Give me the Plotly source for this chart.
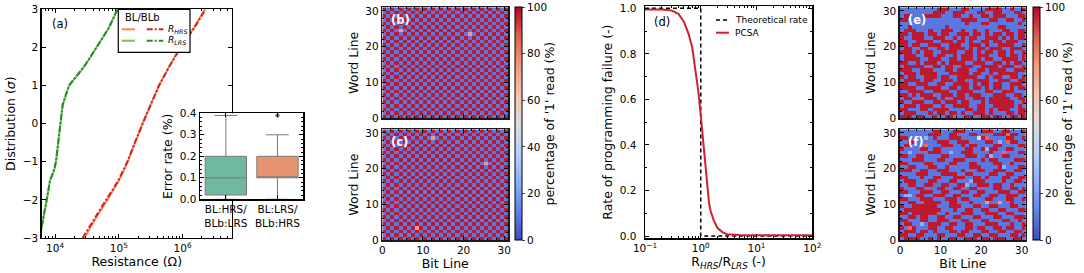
import plotly.graph_objects as go

W, H = 1084, 273
FONT = "DejaVu Sans"


def px(x):
    return x / W


def py(y):
    return 1 - y / H


# ---------------- Panel (a): cumulative distributions ----------------
sigma_hrs = [-3.0, -2.5, -2.0, -1.5, -1.0, -0.5, 0.0, 0.5, 1.0, 1.5, 2.0, 2.5, 3.0]
r_bl_hrs = [28800, 42700, 66100, 100000, 138000, 178000, 234000, 316000, 427000, 617000, 912000, 1480000, 2240000]
r_blb_hrs = [27000, 40700, 63100, 97700, 136000, 178000, 234000, 316000, 427000, 617000, 933000, 1510000, 2290000]

sigma_lrs = [-3.0, -2.5, -2.0, -1.5, -1.2, -1.0, -0.5, 0.0, 0.5, 1.0, 1.5, 2.0, 2.5, 3.0]
r_bl_lrs = [5750, 6610, 7410, 8320, 9770, 10350, 11220, 12020, 13180, 16600, 28800, 44700, 69200, 95500]
r_blb_lrs = [5700, 6560, 7380, 8300, 9700, 10300, 11200, 12000, 13150, 16500, 28600, 44500, 69000, 95000]

# inset box statistics (error rate %)
box_labels = ["BL:HRS/<br>BLb:LRS", "BL:LRS/<br>BLb:HRS"]
box_q1 = [0.02, 0.10]
box_median = [0.10, 0.10]
box_q3 = [0.20, 0.20]
box_low = [0.0, 0.0]
box_high = [0.39, 0.30]
outlier_val = [0.39]

# ---------------- Panel (d): programming failure ----------------
ratio_theory = [0.1, 1.0, 1.0, 100.0]
rate_theory = [1.0, 1.0, 0.0, 0.0]
ratio_pcsa = [0.1, 0.2, 0.3, 0.4, 0.5, 0.6, 0.7, 0.8, 0.9, 1.0, 1.1, 1.2, 1.3, 1.4, 1.5,
              1.7, 2.0, 2.5, 3.0, 4.0, 5.0, 10.0, 20.0, 50.0, 100.0]
rate_pcsa = [0.995, 0.995, 0.99, 0.975, 0.94, 0.89, 0.83, 0.74, 0.64, 0.53, 0.42, 0.31, 0.22,
             0.15, 0.11, 0.07, 0.035, 0.015, 0.008, 0.005, 0.004, 0.003, 0.003, 0.003, 0.003]

# ---------------- Heatmaps: rows listed from word line 30 (top) to 0 ----------------
level = {"B": 10, "b": 25, "w": 50, "o": 75, "r": 85, "R": 97}

map_b = [
    "RBRBRBRBRBRBRBRBRBRBRBRBRBRBRBR",
    "BRBRBRBRBRBRBRBRBRBRBRBRBRBRBRB",
    "RBRBRBRBRBRBRBRBRBRBRBRBRBRBRBR",
    "BRBRBRBRBRBRBRBRBRBRBRBRBRBRBRB",
    "RBRBRBRBRBRBRBRBRBRBRBRBRBRBRBR",
    "BRBRBRBRBRBRBRBRBRBRBRBRBRBRBRB",
    "RBRBoBRBRBRBRBRBRBRBRBRBRBRBRBR",
    "BRBRBRBRBRBRBRBRBRBRBoBRBRBRBRB",
    "RBRBRBRBRBRBRBRBRBRBRBRBRBRBRBR",
    "BRBRBRBRBRBRBRBRBRBRBRBRBRBRBRB",
    "RBRBRBRBRBRBRBRBRBRBRBRBRBRBRBR",
    "BRBRBRBRBRBRBRBRBRBRBRBRBRBRBRB",
    "RBRBRBRBRBRBRBRBRBRBRBRBRBRBRBR",
    "BRBRBRBRBRBRBRBRBRBRBRBRBRBRBRB",
    "RBRBRBRBRBRBRBRBRBRBRBRBRBRBRBR",
    "BRBRBRBRBRBRBRBRBRBRBRBRBRBRBRB",
    "RBRBRBRBRBRBRBRBRBRBRBRBRBRBRBR",
    "BRBRBRBRBRBRBRBRBRBRBRBRBRBRBRB",
    "RBRBRBRBRBRBRBRBRBRBRBRBRBRBRBR",
    "BRBRBRBRBRBRBRBRBRBRBRBRBRBRBRB",
    "RBRBRBRBRBRBRBRBRBRBRBRBRBRBRBR",
    "BRBRBRBRBRBRBRBRBRBRBRBRBRBRBRB",
    "RBRBRBRBRBRBRBRBRBRBRBRBRBRBRBR",
    "BRBRBRBRBRBRBRBRBRBRBRBRBRBRBRB",
    "RBRBRBRBRBRBRBRBRBRBRBRBRBRBRBR",
    "BRBRBRBRBRBRBRBRBRBRBRBRBRBRBRB",
    "RBRBRBRBRBRBRBRBRBRBRBRBRBRBRBR",
    "BRBRBRBRBRBRBRBRBRBRBRBRBRBRBRB",
    "RBRBRBRBRBRBRBRBRBRBRBRBRBRBRBR",
    "BRBRBRBRBRBRBRBRBRBRBRBRBRBRBRB",
    "RBRBRBRBRBRBRBRBRBRBRBRBRBRBRBR",
]

map_c = [
    "RBRBRBRBRBRBRBRBRBRBRBRBRBRBRBR",
    "BRBRBRBRBRBRBRBRBRBRBRBRBRBRBRB",
    "RBRBRBRBRBRBoBRBRBRBRBRBRBRBRBR",
    "BRBRBRBRBRBRBRBRBRBRBRBRBRBRBRB",
    "RBRBRBRBRBRBRBRBRBRBRBRBRBRBRBR",
    "BRBRBRBRBRBRBRBRBRBRBRBRBRBRBRB",
    "RBRBRBRBRBRBRBRBRBRBRBRBRBRBRBR",
    "BRBRBRBRBRBRBRBRBRBRBRBRBRBRBRB",
    "RBRBRBRBRBRBRBRBRBRBRBRBRBRBRBR",
    "BRBRBRBRBRBRBRBRBRBRBRBRBoBRBRB",
    "RBRBRBRBRBRBRBRBRBRBRBRBRBRBRBR",
    "BRBRBRBRBRBRBRBRBRBRBRBRBRBRBRB",
    "RBRBRBRBRBRBRBRBRBRBRBRBRBRBRBR",
    "BRBRBRBRBRBRBRBRBRBRBRBRBRBRBRB",
    "RBRBRBRBRBRBRBRBRBRBRBRBRBRBRBR",
    "BRBRBRBRBRBRBRBRBRBRBRBRBRBRBRB",
    "RBRBRBRBRBRBRBRBRBRBRBRBRBRBRBR",
    "BRBRBRBRBRBRBRBRBRBRBRBRBRBRBRB",
    "RBRBRBRBRBRBRBRBRBRBRBRBRBRBRBR",
    "BRBRBRBRBRBRBRBRBRBRBRBRBRBRBRB",
    "RBRBRBRBRBRBRBRBRBRBRBRBRBRBRBR",
    "BRBRBRBRBRBRBRBRBRBRBRBRBRBRBRB",
    "RBRBRBRBRBRBRBRBRBRBRBRBRBRBRBR",
    "BRBRBRBRBRBRBRBRBRBRBRBRBRBRBRB",
    "RBRBRBRBRBRBRBRBRBRBRBRBRBRBRBR",
    "BRBRBRBRBRBRBRBRBRBRBRBRBRBRBRB",
    "RBRBRBRBRBRBRBRBRBRBRBRBRBRBRBR",
    "BRBRBRBRoRBRBRBRBRBRBRBRBRBRBRB",
    "RBRBRBRBRBRBRBRBRBRBRBRBRBRBRBR",
    "BRBRBRBRBRBRBRBRBRBRBRBRBRBRBRB",
    "RBRBRBRBRBRBRBRBRBRBRBRBRBRBRBR",
]

map_e = [
    "BBBBBBBBBRRRBBBRRBBBBRRRRBBRBBR",
    "BBBBBBBBRRRBBRRRBBBRRBBRRBBBRRB",
    "BRRBBBRRRRBBBRRBBRBBRRBRRRBBBRR",
    "RRBBBBBBBBBBBBBRRRRBBBRRBBRRBBR",
    "BBBBBBBBBBBBBBBBRBBBRRBBBBBBBRB",
    "BBRBBBBBBBBRBBBBBBBBBBBBRRBBBBB",
    "BRRRBBBRBBRRRBBRBBRBBRBBBRRBBRR",
    "RRBRRRBRRBRRBBRRRBRRBRBRRBRRBRR",
    "RBBRRRBBRRRBBRBRBRRBBRRRBRBRBRR",
    "RRBBRRRRBBRRRBRRBRBBRRBRRBRRRBB",
    "RRBRRBBRRRBBRRRBBRRRBRBBRRRRBBR",
    "BRRBBRRBBRRBRRRRBRBRRBRRRBBRRRB",
    "RRRBRBRRBBRRRRBBRRBRBRRBRRBRBBR",
    "BRRRBBRRBRRBBRBRRRBRRRBBRRBRRBR",
    "BRRRRBBRRRBBRRBRRRBRBRRBBRRRRBR",
    "RRBBRBRRRBRBRRRRBBRRRBBRRBRBRRB",
    "BRRRRRBBRRBRRBBRRRBBRRRRBRRRBBR",
    "RRRBBRRRBBBRRBRRRBBRRBRRRRBBRRR",
    "BRRRBRRRRBBBRRRRRBRRBBRBRRRRRBB",
    "RBRRBBRRRBRRBBRRRRRBBRBRRBBRRBR",
    "BRRRRBRRBBRRRBRRBBRRRRBBRRRBBRR",
    "RRBBRRRBBRRBBRRRRBRBRRBRRBBRRRB",
    "RRRRBBRRRRBBRRBRRBRRBRBRRBBRBRR",
    "BBRRRRBBRRRRBBRRRRBBBRRBBRRRBBB",
    "RRBRBRRRBBRRRBRRBRRRBBBRRRBBRRB",
    "BRRBBBRRRBRBBRRRBBRRRBRRRRRBBRR",
    "RBBRRRBBRRBRRRBRRBBBRBRRRRRRBBR",
    "BRRRBRRRBBRBBRRRRBBRRBBRRRRRBRB",
    "RRBBBRRBRRRRBBBBRRBRRBRBRRRBBRR",
    "BRRRBBBRBRRBRRBRBBRRRBRBBBRRBRR",
    "RRRBRRBBRBBRRBBBRRBBRRBRRBBRRBR",
]

map_f = [
    "BBBBBBBBRRBBBRRRBBBBRRRBBRRBBBR",
    "BBBBBBBRRRBBRRBBBRRBBBBRRRrRRBB",
    "RRBBBBbBRBBBRRRBBBBwRrBBBBRRBBR",
    "BBRRBBBBBRRRBBRRRBBBBRRBbBrRRBB",
    "BRRBBBrBBBRRRBBRBRRBBBBRRBBBBRR",
    "RBBBBRRBRRBBBBBBRRBBRbRRBBRRBBB",
    "BBbBBBBRRRBBbBBRRRBBBBRBBrBBBRR",
    "RRBBRRBBBBRRBBBBRRRBBRbBBRRBBBB",
    "BBBRRRBBBRRBBRRRBBBBRBRRBBBBRRR",
    "RRBBBBRRBBBBRRBBBRRBBBBRRBBRBBB",
    "BBRRBBBRRBBRBBBBBRRRBBBBRbBBBRR",
    "RRRBBRRBBRRRBBBRBBBRRBBRRRBBRRB",
    "BBBBRRRBBBRRRRBBRRBBBBRRBBRRBBB",
    "RRBBBRBBRRBBBRRRBBRRBRBBBRRBBRR",
    "BRRRBBBRRBBBRRBBBbRRRBBBBRBBRRB",
    "BBRRBBRRBBRRBBRRbBBRRRBRRBBRBBB",
    "RBBBRRBBBRRBBRRBBRRBBBBRRBBRRBR",
    "RRBBBRRRBBRRBBBRRBBRRBBBRRRBBRR",
    "BbbBRRBBRRRBBRRBBBRRBBRRBBRRRBB",
    "RRBBBRRRBBBRRRBRRBBBBRRBBBRRBBR",
    "BBRRBBRRRRBBRRBBBRBBBoBBoBBRBBB",
    "RBBRRRRRRBBBRRRBBBRRBBRRBBBRRBB",
    "BRRRRRRRRRBBBRBBRRBBRRBBRRBBBRR",
    "RRBRRRRRRBBRBBBRRRBBBRRRBBRRBBB",
    "BBRRBRRBBRRBBRRBBBRRBBBRRBBBRRR",
    "RRBBBRRBBRRRBBBRRBBBRRBBBRRBBRB",
    "BRRBBbBRRRBBRRBBRRBBBRRRBBBRBBR",
    "RBrRBBBRRBBRRBBBRRBRRBBRRBRRBBR",
    "BRRRBRRBRBBBRRBRRBBBRRBBRRBBRRB",
    "RRBBRRBBBRRBBBRRBBRRBBRRBBBRRBR",
    "BRRRRBBRBRBBRRBBRRRBRRBRRRBBRRB",
]


def decode(rows):
    out = []
    for row in reversed(rows):  # bottom row (word line 0) first
        row = (row + "B" * 31)[:31]
        out.append([level[c] for c in row])
    return out


coolwarm = [
    [0.0, "rgb(59,76,192)"], [0.125, "rgb(98,130,234)"], [0.25, "rgb(141,176,254)"],
    [0.375, "rgb(184,208,249)"], [0.5, "rgb(221,221,221)"], [0.625, "rgb(245,196,173)"],
    [0.75, "rgb(244,154,123)"], [0.875, "rgb(222,96,77)"], [1.0, "rgb(180,4,38)"],
]

C_ORANGE = "#F98A4B"
C_RED = "#D0202E"
C_LGREEN = "#7CC242"
C_DGREEN = "#1E8B3A"
DASHDOT = "6px,2px,2px,2px"

fig = go.Figure()

# (a) curves
fig.add_trace(go.Scatter(x=r_bl_hrs, y=sigma_hrs, mode="lines", line=dict(color=C_ORANGE, width=2),
                         xaxis="x", yaxis="y", showlegend=False))
fig.add_trace(go.Scatter(x=r_blb_hrs, y=sigma_hrs, mode="lines", line=dict(color=C_RED, width=2, dash=DASHDOT),
                         xaxis="x", yaxis="y", showlegend=False))
fig.add_trace(go.Scatter(x=r_bl_lrs, y=sigma_lrs, mode="lines", line=dict(color=C_LGREEN, width=2),
                         xaxis="x", yaxis="y", showlegend=False))
fig.add_trace(go.Scatter(x=r_blb_lrs, y=sigma_lrs, mode="lines", line=dict(color=C_DGREEN, width=2, dash=DASHDOT),
                         xaxis="x", yaxis="y", showlegend=False))

# inset boxes
box_fill = ["#71B8A0", "#E8936F"]
for i in range(2):
    fig.add_trace(go.Box(x=[i], q1=[box_q1[i]], median=[box_median[i]], q3=[box_q3[i]],
                         lowerfence=[box_low[i]], upperfence=[box_high[i]],
                         fillcolor=box_fill[i], line=dict(color="#7a7a7a", width=1),
                         width=0.8, whiskerwidth=0.55, xaxis="x2", yaxis="y2", showlegend=False))
fig.add_trace(go.Scatter(x=[1], y=outlier_val, mode="markers",
                         marker=dict(symbol="diamond", size=4, color="#7a7a7a"),
                         xaxis="x2", yaxis="y2", showlegend=False))

# heatmaps
for rows, xa, ya, ca in [(map_b, "x3", "y3", "coloraxis"), (map_c, "x4", "y4", "coloraxis"),
                         (map_e, "x6", "y6", "coloraxis2"), (map_f, "x7", "y7", "coloraxis2")]:
    fig.add_trace(go.Heatmap(z=decode(rows), x0=0.5, dx=1, y0=0.5, dy=1, coloraxis=ca,
                             xaxis=xa, yaxis=ya, hoverinfo="skip"))

# (d)
fig.add_trace(go.Scatter(x=ratio_theory, y=rate_theory, mode="lines",
                         line=dict(color="black", width=1.5, dash="4px,3px"),
                         xaxis="x5", yaxis="y5", showlegend=False))
fig.add_trace(go.Scatter(x=ratio_pcsa, y=rate_pcsa, mode="lines", line=dict(color=C_RED, width=2),
                         xaxis="x5", yaxis="y5", showlegend=False))

tickfont = dict(family=FONT, size=10.5, color="black")
titlefont = dict(family=FONT, size=12.5, color="black")


def ax(**kw):
    d = dict(showline=True, linecolor="black", linewidth=1.4, mirror="ticks", ticks="inside",
             ticklen=4, tickwidth=1, tickcolor="black", showgrid=False, zeroline=False,
             tickfont=tickfont, automargin=False)
    d.update(kw)
    return d


def title(t, standoff=4):
    return dict(text=t, font=titlefont, standoff=standoff)


hm_x = dict(range=[0, 31], tickmode="linear", tick0=0, dtick=10, linewidth=1.6, linecolor="#1a1a1a",
            minor=dict(ticks="inside", ticklen=2, dtick=2, tick0=0, tickcolor="black"))
hm_y = dict(range=[0, 31], tickmode="linear", tick0=0, dtick=10, linewidth=1.6, linecolor="#1a1a1a",
            minor=dict(ticks="inside", ticklen=2, dtick=2, tick0=0, tickcolor="black"))

colorbar_common = dict(thickness=7, len=232.7 / H, lenmode="fraction", y=py(123.65), yanchor="middle",
                       yref="paper", xref="paper", xanchor="left", xpad=0, ypad=0,
                       outlinecolor="black", outlinewidth=1, ticks="outside", ticklen=3,
                       tickvals=[0, 20, 40, 60, 80, 100], tickfont=tickfont,
                       title=dict(text="percentage of '1' read (%)", side="right", font=titlefont))

fig.update_layout(
    width=W, height=H, margin=dict(l=0, r=0, t=0, b=0, autoexpand=False),
    paper_bgcolor="white", plot_bgcolor="white",
    font=dict(family=FONT, size=10.5, color="black"),
    xaxis=ax(type="log", range=[3.79, 6.77], domain=[px(41.7), px(231.7)], anchor="y",
             tickmode="array", tickvals=[1e4, 1e5, 1e6],
             ticktext=["10<sup>4</sup>", "10<sup>5</sup>", "10<sup>6</sup>"],
             minor=dict(ticks="inside", ticklen=2, dtick="D1", tickcolor="black"),
             title=title("Resistance (Ω)")),
    yaxis=ax(range=[-3, 3], dtick=1, domain=[py(238), py(9.3)], anchor="x",
             title=title("Distribution (<i>σ</i>)")),
    xaxis2=ax(range=[-0.5, 1.5], domain=[px(200), px(303.3)], anchor="y2",
              tickmode="array", tickvals=[0, 1], ticktext=box_labels),
    yaxis2=ax(range=[0, 0.4], dtick=0.1, tickformat=".1f", domain=[py(199.3), py(113.3)], anchor="x2",
              minor=dict(ticks="inside", ticklen=2, dtick=0.02, tickcolor="black"),
              title=title("Error rate (%)")),
    xaxis3=ax(domain=[px(382.3), px(508.3)], anchor="y3", showticklabels=False, **hm_x),
    yaxis3=ax(domain=[py(118.3), py(7.3)], anchor="x3", title=title("Word Line"), **hm_y),
    xaxis4=ax(domain=[px(382.3), px(508.3)], anchor="y4", title=title("Bit Line"), **hm_x),
    yaxis4=ax(domain=[py(240), py(129.3)], anchor="x4", title=title("Word Line"), **hm_y),
    xaxis5=ax(type="log", range=[-1, 2], domain=[px(645), px(812.3)], anchor="y5",
              tickmode="array", tickvals=[0.1, 1, 10, 100],
              ticktext=["10<sup>−1</sup>", "10<sup>0</sup>", "10<sup>1</sup>", "10<sup>2</sup>"],
              minor=dict(ticks="inside", ticklen=2, dtick="D1", tickcolor="black"),
              title=title("R<sub><i>HRS</i></sub>/R<sub><i>LRS</i></sub> (-)")),
    yaxis5=ax(range=[-0.01, 1.01], tickmode="linear", tick0=0, dtick=0.2, tickformat=".1f",
              domain=[py(238.3), py(6)], anchor="x5", ticklabelstandoff=5,
              minor=dict(ticks="inside", ticklen=2, dtick=0.1, tick0=0, tickcolor="black"),
              title=title("Rate of programming failure (-)")),
    xaxis6=ax(domain=[px(900), px(1025.7)], anchor="y6", showticklabels=False, **hm_x),
    yaxis6=ax(domain=[py(118.3), py(7.3)], anchor="x6", title=title("Word Line"), **hm_y),
    xaxis7=ax(domain=[px(900), px(1025.7)], anchor="y7", title=title("Bit Line"), **hm_x),
    yaxis7=ax(domain=[py(240), py(129.3)], anchor="x7", title=title("Word Line"), **hm_y),
    coloraxis=dict(colorscale=coolwarm, cmin=0, cmax=100,
                   colorbar=dict(x=px(515), **colorbar_common)),
    coloraxis2=dict(colorscale=coolwarm, cmin=0, cmax=100,
                    colorbar=dict(x=px(1032.7), **colorbar_common)),
)

shapes = []
annotations = []
# white background for the inset (covers main panel spine)
shapes.append(dict(type="rect", xref="x2 domain", yref="y2 domain", x0=0, x1=1, y0=0, y1=1,
                   fillcolor="white", line=dict(width=0), layer="below"))

# legend of (a)
shapes.append(dict(type="rect", xref="paper", yref="paper", x0=px(118.3), x1=px(190),
                   y0=py(52.3), y1=py(9.3), fillcolor="white", line=dict(color="black", width=1.2),
                   layer="above"))
for yy, c1, c2 in [(29.3, C_ORANGE, C_RED), (40.7, C_LGREEN, C_DGREEN)]:
    shapes.append(dict(type="line", xref="paper", yref="paper", x0=px(121.7), x1=px(135),
                       y0=py(yy), y1=py(yy), line=dict(color=c1, width=2), layer="above"))
    shapes.append(dict(type="line", xref="paper", yref="paper", x0=px(146.7), x1=px(163.3),
                       y0=py(yy), y1=py(yy), line=dict(color=c2, width=2, dash=DASHDOT), layer="above"))
legfont = dict(family=FONT, size=9, color="black")
annotations.append(dict(text="BL/BLb", x=px(123), y=py(17), xref="paper", yref="paper",
                        xanchor="left", yanchor="middle", showarrow=False,
                        font=dict(family=FONT, size=10, color="black")))
annotations.append(dict(text="<i>R<sub>HRS</sub></i>", x=px(166), y=py(29.3), xref="paper", yref="paper",
                        xanchor="left", yanchor="middle", showarrow=False, font=legfont))
annotations.append(dict(text="<i>R<sub>LRS</sub></i>", x=px(166), y=py(40.7), xref="paper", yref="paper",
                        xanchor="left", yanchor="middle", showarrow=False, font=legfont))

# legend of (d)
shapes.append(dict(type="line", xref="paper", yref="paper", x0=px(716), x1=px(729),
                   y0=py(20), y1=py(20), line=dict(color="black", width=1.5, dash="4px,3px")))
shapes.append(dict(type="line", xref="paper", yref="paper", x0=px(716), x1=px(729),
                   y0=py(32.7), y1=py(32.7), line=dict(color=C_RED, width=2)))
annotations.append(dict(text="Theoretical rate", x=px(733), y=py(20), xref="paper", yref="paper",
                        xanchor="left", yanchor="middle", showarrow=False, font=legfont))
annotations.append(dict(text="PCSA", x=px(733), y=py(32.7), xref="paper", yref="paper",
                        xanchor="left", yanchor="middle", showarrow=False, font=legfont))

# panel labels
lab = dict(family=FONT, size=11.5, color="black")
labw = dict(family=FONT, size=11.5, color="white")
for t, x, y, f in [("(a)", 50, 24, lab), ("(d)", 652, 22, lab),
                   ("<b>(b)</b>", 389, 20, labw), ("<b>(c)</b>", 389, 141.7, labw),
                   ("<b>(e)</b>", 906, 20, labw), ("<b>(f)</b>", 906, 141.7, labw)]:
    annotations.append(dict(text=t, x=px(x), y=py(y), xref="paper", yref="paper",
                            xanchor="left", yanchor="middle", showarrow=False, font=f))

fig.update_layout(shapes=shapes, annotations=annotations)
fig.write_html("out.html", config={"displayModeBar": False, "staticPlot": True})

# remove the default page margin so the figure sits at the window's top-left corner
with open("out.html", "r", encoding="utf-8") as fh:
    page = fh.read()
page = page.replace("<head>", "<head><style>html,body{margin:0;padding:0;overflow:hidden;}</style>", 1)
with open("out.html", "w", encoding="utf-8") as fh:
    fh.write(page)
